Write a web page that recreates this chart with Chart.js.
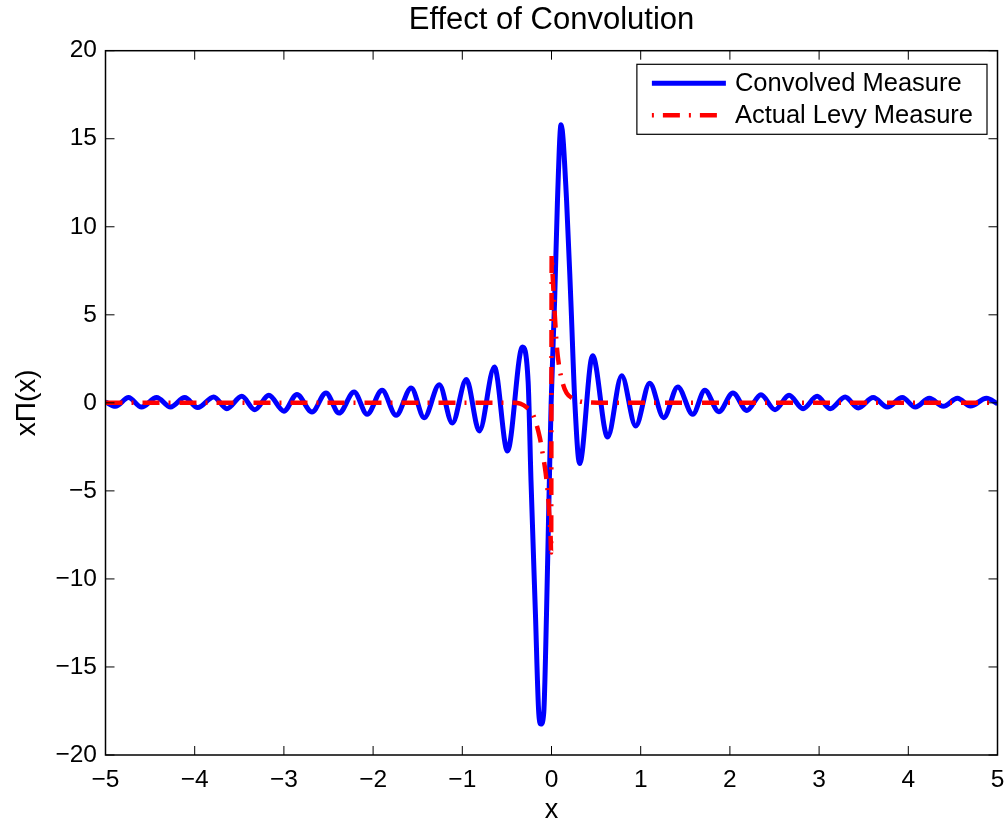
<!DOCTYPE html>
<html>
<head>
<meta charset="utf-8">
<title>Effect of Convolution</title>
<script src="https://cdn.jsdelivr.net/npm/chart.js@4.4.1/dist/chart.umd.min.js"></script>
<style>
    html, body { margin: 0; padding: 0; background: #fff; }
    canvas { display: block; }
</style>
</head>
<body>
<canvas id="convChart" width="1008" height="824"></canvas>
<script>
const fontFamily = 'Helvetica, Arial, "Liberation Sans", sans-serif';

// x ticks and y ticks
const xTickValues = [-5, -4, -3, -2, -1, 0, 1, 2, 3, 4, 5];
const yTickValues = [-20, -15, -10, -5, 0, 5, 10, 15, 20];

// convolved measure: extrema, plus a few points on the central lobes
const convolvedX = [
    -5.0, -4.888, -4.742, -4.596, -4.427, -4.270, -4.112, -3.966, -3.787, -3.640,
    -3.472, -3.326, -3.169, -3.0, -2.854, -2.685, -2.528, -2.382, -2.213, -2.067,
    -1.899, -1.742, -1.573, -1.427, -1.258, -1.112, -0.955, -0.809, -0.640, -0.494,
    -0.326, -0.262, -0.230, -0.180, -0.143, -0.118, -0.087, -0.056, -0.024, -0.004,
    0.035, 0.067, 0.107, 0.169, 0.217, 0.262, 0.315,
    0.461, 0.629, 0.787, 0.944, 1.101, 1.258, 1.416, 1.584, 1.719, 1.876,
    2.034, 2.191, 2.348, 2.506, 2.663, 2.820, 2.978, 3.124, 3.292, 3.438,
    3.607, 3.764, 3.933, 4.079, 4.236, 4.393, 4.551, 4.697, 4.876, 5.0,
];
const convolvedY = [
    0.05, -0.2, 0.30, -0.24, 0.30, -0.24, 0.30, -0.27, 0.33, -0.33,
    0.37, -0.39, 0.43, -0.47, 0.48, -0.52, 0.56, -0.58, 0.61, -0.65,
    0.71, -0.71, 0.84, -0.84, 1.03, -1.15, 1.32, -1.6, 2.03, -2.73,
    3.17, 1.2, -4.4, -12.0, -17.6, -18.24, -17.6, -12.0, -4.4, 0,
    5.8, 11.5, 15.8, 11.5, 5.8, 0, -3.45,
    2.68, -1.94, 1.54, -1.31, 1.12, -0.84, 0.9, -0.65, 0.71, -0.5,
    0.56, -0.43, 0.46, -0.39, 0.43, -0.33, 0.37, -0.33, 0.33, -0.29,
    0.30, -0.24, 0.30, -0.24, 0.26, -0.2, 0.26, -0.18, 0.26, -0.05,
];

// actual levy measure
const levyX = [
    -5.0, -0.416, -0.35, -0.28, -0.213, -0.17, -0.13, -0.095, -0.065, -0.04, -0.022, -0.01, -0.004,
    0.002, 0.012, 0.034, 0.06, 0.085, 0.127, 0.17, 0.24, 0.32, 0.45, 0.6, 5.0,
];
const levyY = [
    0, 0, -0.05, -0.25, -0.61, -1.2, -2.0, -3.0, -4.0, -5.2, -6.5, -7.6, -8.5,
    8.4, 7.35, 5.25, 3.17, 2.1, 1.09, 0.55, 0.24, 0.08, 0.02, 0, 0,
];

const tickLength = 9;
const minusSign = value => String(value).replace('-', '\u2212');
const toPoints = (xs, ys) => xs.map((x, i) => ({ x, y: ys[i] }));

const axesFrame = {
    id: 'axesFrame',
    afterDatasetsDraw(chart) {
        const { ctx, chartArea: area, scales: { x, y } } = chart;
        ctx.save();
        ctx.strokeStyle = '#000';
        ctx.lineWidth = 1.5;
        ctx.strokeRect(area.left, area.top, area.right - area.left, area.bottom - area.top);
        ctx.beginPath();
        x.ticks.forEach(tick => {
            const px = x.getPixelForValue(tick.value);
            ctx.moveTo(px, area.bottom); ctx.lineTo(px, area.bottom - tickLength);
            ctx.moveTo(px, area.top); ctx.lineTo(px, area.top + tickLength);
        });
        y.ticks.forEach(tick => {
            const py = y.getPixelForValue(tick.value);
            ctx.moveTo(area.left, py); ctx.lineTo(area.left + tickLength, py);
            ctx.moveTo(area.right, py); ctx.lineTo(area.right - tickLength, py);
        });
        ctx.lineWidth = 1;
        ctx.stroke();
        ctx.restore();
    },
};

const boxedLegend = {
    id: 'boxedLegend',
    afterDraw(chart) {
        const { ctx, chartArea: area } = chart;
        const datasets = chart.data.datasets;
        ctx.save();
        ctx.font = '25.5px ' + fontFamily;
        const textWidth = Math.max(...datasets.map(d => ctx.measureText(d.label).width));
        const width = 98 + textWidth + 14;
        const height = 70;
        const left = area.right - 10.5 - width;
        const top = area.top + 13.6;
        ctx.fillStyle = '#fff';
        ctx.fillRect(left, top, width, height);
        ctx.strokeStyle = '#000';
        ctx.lineWidth = 1.2;
        ctx.strokeRect(left, top, width, height);

        datasets.forEach((dataset, i) => {
            const rowY = top + 19 + i * 32;
            ctx.beginPath();
            ctx.strokeStyle = dataset.borderColor;
            ctx.lineWidth = dataset.borderWidth;
            ctx.setLineDash(dataset.borderDash || []);
            ctx.lineDashOffset = dataset.borderDash ? 26 : 0;
            ctx.moveTo(left + 15, rowY);
            ctx.lineTo(left + 89, rowY);
            ctx.stroke();
            ctx.setLineDash([]);
            ctx.fillStyle = '#000';
            ctx.textBaseline = 'middle';
            ctx.textAlign = 'left';
            ctx.fillText(dataset.label, left + 98, rowY + 1);
        });
        ctx.restore();
    },
};

new Chart(document.getElementById('convChart'), {
    type: 'line',
    data: {
        datasets: [
            {
                label: 'Convolved Measure',
                data: toPoints(convolvedX, convolvedY),
                borderColor: '#0000ff',
                borderWidth: 5,
                pointRadius: 0,
                cubicInterpolationMode: 'monotone',
                order: 1,
            },
            {
                label: 'Actual Levy Measure',
                data: toPoints(levyX, levyY),
                borderColor: '#ff0000',
                borderWidth: 4.5,
                borderDash: [17, 9, 2, 9],
                borderCapStyle: 'butt',
                pointRadius: 0,
                cubicInterpolationMode: 'monotone',
                order: 0,
            },
        ],
    },
    options: {
        responsive: false,
        animation: false,
        devicePixelRatio: 1,
        layout: { padding: { left: 0, right: 10.5, top: 0, bottom: 0 } },
        plugins: {
            legend: { display: false },
            tooltip: { enabled: false },
            title: {
                display: true,
                text: 'Effect of Convolution',
                fullSize: false,
                color: '#000',
                font: { family: fontFamily, size: 31, weight: 'normal' },
                padding: { top: 2, bottom: 11.5 },
            },
        },
        scales: {
            x: {
                type: 'linear',
                min: -5,
                max: 5,
                afterBuildTicks: scale => { scale.ticks = xTickValues.map(value => ({ value })); },
                afterFit: scale => {
                    scale.height = 69;
                    scale.paddingLeft = 0;
                    scale.paddingRight = 0;
                },
                ticks: {
                    color: '#000',
                    font: { family: fontFamily, size: 24.5 },
                    padding: 11,
                    maxRotation: 0,
                    autoSkip: false,
                    callback: minusSign,
                },
                grid: { display: false, drawTicks: false },
                border: { display: false },
                title: {
                    display: true,
                    text: 'x',
                    color: '#000',
                    font: { family: fontFamily, size: 27, lineHeight: 1 },
                    padding: { top: 0, bottom: 0 },
                },
            },
            y: {
                min: -20,
                max: 20,
                afterBuildTicks: scale => { scale.ticks = yTickValues.map(value => ({ value })); },
                afterFit: scale => {
                    scale.width = 105.5;
                    scale.paddingTop = 0;
                    scale.paddingBottom = 0;
                },
                ticks: {
                    color: '#000',
                    font: { family: fontFamily, size: 24.5 },
                    padding: 8.5,
                    autoSkip: false,
                    callback: minusSign,
                },
                grid: { display: false, drawTicks: false },
                border: { display: false },
                title: {
                    display: true,
                    text: 'x\u03a0(x)',
                    color: '#000',
                    font: { family: fontFamily, size: 28 },
                    padding: { top: 10, bottom: 0 },
                },
            },
        },
    },
    plugins: [axesFrame, boxedLegend],
});
</script>
</body>
</html>
